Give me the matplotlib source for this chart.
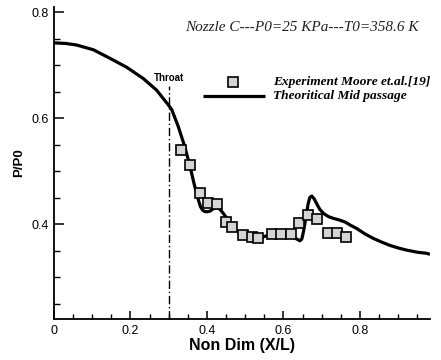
import matplotlib
matplotlib.use("Agg")
import matplotlib.pyplot as plt
from matplotlib.ticker import MultipleLocator, FixedLocator

# Theoretical mid-passage pressure ratio along the nozzle
theory_x = [0.0, 0.03, 0.059, 0.103, 0.146, 0.19, 0.233, 0.268, 0.299, 0.308,
            0.325, 0.342, 0.356, 0.366, 0.375, 0.383, 0.389, 0.395, 0.401, 0.408,
            0.416, 0.425, 0.434, 0.443, 0.453, 0.464, 0.486, 0.508, 0.517, 0.525,
            0.535, 0.547, 0.560, 0.573, 0.595, 0.617, 0.632, 0.643, 0.648, 0.652,
            0.656, 0.660, 0.665, 0.669, 0.674, 0.680, 0.688, 0.695, 0.705, 0.718,
            0.730, 0.745, 0.761, 0.775, 0.791, 0.812, 0.835, 0.857, 0.878, 0.900,
            0.922, 0.950, 0.974, 0.983]
theory_y = [0.742, 0.741, 0.738, 0.729, 0.713, 0.696, 0.675, 0.653, 0.625, 0.616,
            0.584, 0.546, 0.508, 0.477, 0.4515, 0.433, 0.426, 0.4235, 0.4235, 0.4245,
            0.429, 0.4315, 0.428, 0.420, 0.410, 0.398, 0.382, 0.370, 0.3685, 0.3675,
            0.370, 0.376, 0.379, 0.381, 0.380, 0.377, 0.373, 0.3685, 0.372, 0.385,
            0.401, 0.420, 0.440, 0.4505, 0.453, 0.448, 0.437, 0.428, 0.420, 0.414,
            0.411, 0.408, 0.404, 0.398, 0.392, 0.382, 0.373, 0.366, 0.360, 0.355,
            0.351, 0.347, 0.345, 0.343]

# Experimental data (Moore et al.)
exp_x = [0.333, 0.356, 0.381, 0.403, 0.427, 0.451, 0.465, 0.493, 0.519, 0.534,
         0.569, 0.593, 0.619, 0.641, 0.665, 0.688, 0.716, 0.739, 0.763]
exp_y = [0.540, 0.511, 0.4595, 0.4395, 0.4385, 0.4035, 0.3945, 0.380, 0.3755, 0.3736,
         0.382, 0.382, 0.382, 0.4025, 0.417, 0.409, 0.384, 0.384, 0.376]

throat_x = 0.3
throat_top = 0.66

fig = plt.figure(figsize=(4.41, 3.6), dpi=100)
ax = fig.add_axes([0.1224, 0.1139, 0.975 - 0.1224, 0.981 - 0.1139])

sans = "Liberation Sans"
serif = "Liberation Serif"
marker_style = dict(ls="none", marker="s", ms=6.5, mfc="#d4d4d4", mec="black",
                    mew=1.2)

ax.plot([throat_x, throat_x], [0.221, throat_top], color="black", lw=1.0,
        ls=(0, (6, 2, 1, 2)), zorder=1)
ax.text(throat_x, 0.666, "Throat", ha="center", va="bottom",
        family=sans, fontweight="bold", fontsize=7)

ax.plot(theory_x, theory_y, color="black", lw=2.3, solid_capstyle="butt",
        solid_joinstyle="round", zorder=2)
ax.plot(exp_x, exp_y, zorder=3, **marker_style)

# Legend drawn by hand in data coordinates
ax.plot([0.469], [0.669], **marker_style)
ax.plot([0.389, 0.552], [0.641, 0.641], color="black", lw=2.3, solid_capstyle="butt")
ax.text(0.573, 0.669, "Experiment Moore et.al.[19]", family=serif, style="italic",
        fontweight="bold", fontsize=9.6, va="center", ha="left")
ax.text(0.573, 0.641, "Theoritical Mid passage", family=serif, style="italic",
        fontweight="bold", fontsize=9.6, va="center", ha="left")

ax.text(0.342, 0.771, "Nozzle C---P0=25 KPa---T0=358.6 K", family=serif,
        style="italic", fontsize=11, va="center", ha="left", color="#222222")

ax.set_xlim(0, 0.983)
ax.set_ylim(0.221, 0.81)

ax.xaxis.set_major_locator(FixedLocator([0, 0.2, 0.4, 0.6, 0.8]))
ax.xaxis.set_minor_locator(MultipleLocator(0.05))
ax.yaxis.set_major_locator(FixedLocator([0.4, 0.6, 0.8]))
ax.yaxis.set_minor_locator(MultipleLocator(0.05))
ax.set_xticklabels(["0", "0.2", "0.4", "0.6", "0.8"])
ax.set_yticklabels(["0.4", "0.6", "0.8"])

for s in ("top", "right"):
    ax.spines[s].set_visible(False)
for s in ("left", "bottom"):
    ax.spines[s].set_linewidth(1.3)

ax.tick_params(which="major", direction="in", width=1.1, labelsize=9, pad=4)
ax.tick_params(axis="y", which="major", length=7)
ax.tick_params(axis="x", which="major", length=5.5)
ax.tick_params(which="minor", direction="in", width=1.0)
ax.tick_params(axis="y", which="minor", length=4)
ax.tick_params(axis="x", which="minor", length=3.5)
for lab in ax.get_xticklabels() + ax.get_yticklabels():
    lab.set_family(sans)

ax.set_xlabel("Non Dim (X/L)", family=sans, fontweight="bold", fontsize=11.5,
              labelpad=1)
ax.set_ylabel("P/P0", family=sans, fontweight="bold", fontsize=9.5, labelpad=4)

fig.savefig("out.png", dpi=100)
